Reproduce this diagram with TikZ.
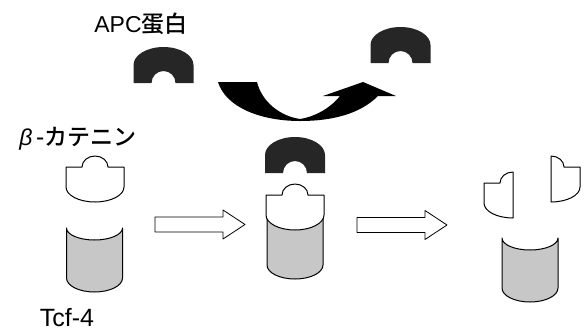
\documentclass[tikz,border=0pt]{standalone}
\usepackage{fontspec}
\setmainfont{Liberation Sans}
\newfontfamily\jpfont{Noto Sans CJK JP Medium}
\usetikzlibrary{positioning}

\begin{document}
\begin{tikzpicture}[
  x=1pt, y=-1pt,
  every node/.style={inner sep=0pt, font=\fontsize{23}{27}\selectfont},
  outline/.style={draw=black, line width=1pt, line join=round},
  apc/.pic={
    \fill[black!85] (-30,0) -- (-30,-18)
      arc[start angle=180, end angle=360, x radius=30, y radius=18] -- (30,0) -- (12,0)
      arc[start angle=360, end angle=180, radius=12] -- cycle;
  },
  catenin/.pic={
    \filldraw[outline, fill=white] (-29,0) -- (-29,-20) -- (-13,-20)
      arc[start angle=180, end angle=360, x radius=13, y radius=11] -- (29,-20) -- (29,0)
      arc[start angle=0, end angle=180, x radius=29, y radius=15] -- cycle;
  },
  catleft/.pic={
    \filldraw[outline, fill=white] (0,-31)
      arc[start angle=270, end angle=180, x radius=13, y radius=11] -- (-29,-20) -- (-29,0)
      arc[start angle=180, end angle=90, x radius=29, y radius=15] -- cycle;
  },
  catright/.pic={
    \filldraw[outline, fill=white] (0,-31)
      arc[start angle=270, end angle=360, x radius=13, y radius=11] -- (29,-20) -- (29,0)
      arc[start angle=0, end angle=90, x radius=29, y radius=15] -- cycle;
  },
  tcf/.pic={
    \filldraw[outline, fill=black!22] (-28,0)
      arc[start angle=180, end angle=0, x radius=28, y radius=12] -- (28,50)
      arc[start angle=0, end angle=180, x radius=28, y radius=14] -- cycle;
  },
  blockarrow/.pic={
    \filldraw[outline, fill=white, line width=0.8pt] (0,-7.5) -- (68,-7.5) -- (68,-14.5)
      -- (90,0) -- (68,14.5) -- (68,7.5) -- (0,7.5) -- cycle;
  }
]
\useasboundingbox (0,0) rectangle (584,333);

% stage positions
\coordinate (s1) at (95,187);
\coordinate (s2) at (295,215);
\coordinate (s3) at (530,238);

% labels
\node (apclabel) at (141,24) {APC{\jpfont 蛋白}};
\node (catlabel) at (78,139) {{\itshape β}\,{\jpfont -カテニン}};
\node[font=\fontsize{25}{29}\selectfont] (tcflabel) at (67,318) {Tcf-4};

% APC protein, free and released
\pic at (163.5,83) {apc};
\pic at (400.5,63) {apc};

% black curved arrow
\fill[black] (218,82) -- (257,82)
  .. controls (262,102) and (280,116) .. (300,119)
  .. controls (318,116) and (332,106) .. (340,96)
  -- (323,96) -- (363,82) -- (396,96) -- (378,96)
  .. controls (360,114) and (332,121) .. (300,121)
  .. controls (262,121) and (226,108) .. (218,82) -- cycle;

% stage 1: separate proteins
\pic at (s1) {catenin};
\pic at (94.5,228) {tcf};

% stage 2: complex
\pic at (s2) {tcf};
\pic at (s2) {catenin};
\pic at (295,173) {apc};

% stage 3: beta-catenin broken up
\pic at (513,203) {catleft};
\pic at (551,187) {catright};
\pic at (s3) {tcf};

% hollow arrows between stages
\pic at (155,224.5) {blockarrow};
\pic at (357,225) {blockarrow};
\end{tikzpicture}
\end{document}
